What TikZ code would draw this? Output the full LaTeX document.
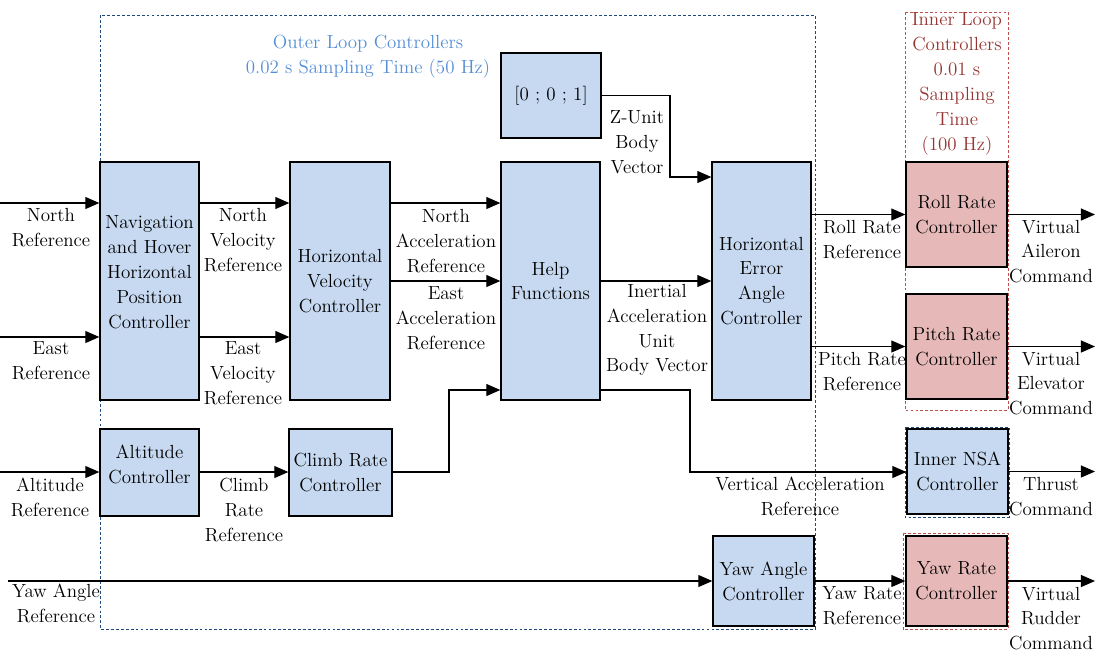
\documentclass[tikz,border=0pt]{standalone}
\usetikzlibrary{arrows.meta}
\definecolor{boxblue}{RGB}{198,217,241}
\definecolor{boxred}{RGB}{230,185,184}
\definecolor{frameblue}{RGB}{31,73,125}
\definecolor{framered}{RGB}{192,80,77}
\definecolor{titleblue}{RGB}{85,142,213}
\definecolor{titlered}{RGB}{150,54,52}
\begin{document}
\begin{tikzpicture}[>={Triangle[length=10pt,width=8.5pt]},x=0.025cm,y=-0.025cm,
    every node/.style={font=\fontsize{13.5}{17.7}\selectfont},
    blk/.style={draw,line width=0.9pt,fill=boxblue,align=center,inner sep=0pt,minimum width=2.5cm},
    rblk/.style={blk,fill=boxred},
    lbl/.style={align=center,inner sep=0pt},
    sig/.style={->,line width=0.9pt},
    frame/.style={line width=0.6pt,dash pattern=on 2pt off 1.5pt}]
    \useasboundingbox (0,0) rectangle (1108,659);
    % frames
    \draw[frame,frameblue] (100,15) rectangle (815,629);
    \draw[frame,framered] (905,12) rectangle (1008,410);
    \draw[frame,frameblue] (905,427) rectangle (1009,517);
    \draw[frame,framered] (903,533) rectangle (1008,629);
    \node[lbl,text=titleblue] (outerTitle) at (368,57) {Outer Loop Controllers\\0.02 s Sampling Time (50 Hz)};
    \node[lbl,text=titlered] (innerTitle) at (957,84) {Inner Loop\\Controllers\\0.01 s\\Sampling\\Time\\(100 Hz)};
    % blocks
    \node[blk,minimum width=2.475cm,minimum height=5.95cm,text depth=12.8pt] (nav) at (149.5,281)
        {Navigation\\and Hover\\Horizontal\\Position\\Controller};
    \node[blk,minimum height=5.95cm] (hvc) at (340,281) {Horizontal\\Velocity\\Controller};
    \node[blk,minimum height=2.125cm] (unitz) at (551,95.5) {[0 ; 0 ; 1]};
    \node[blk,minimum width=2.475cm,minimum height=5.95cm] (help) at (550.5,281) {Help\\Functions};
    \node[blk,minimum width=2.475cm,minimum height=5.95cm] (heac) at (761.5,281)
        {Horizontal\\Error\\Angle\\Controller};
    \node[blk,minimum width=2.475cm,minimum height=2.175cm,text depth=11.3pt] (alt) at (149.5,472.5)
        {Altitude\\Controller};
    \node[blk,minimum width=2.575cm,minimum height=2.175cm] (climb) at (340.5,472.5) {Climb Rate\\Controller};
    \node[blk,minimum width=2.525cm,minimum height=2.25cm] (yawa) at (763.5,581) {Yaw Angle\\Controller};
    \node[rblk,minimum width=2.525cm,minimum height=2.625cm] (roll) at (956.5,214.5) {Roll Rate\\Controller};
    \node[rblk,minimum width=2.525cm,minimum height=2.625cm] (pitch) at (956.5,346.5) {Pitch Rate\\Controller};
    \node[blk,minimum width=2.525cm,minimum height=2.125cm] (nsa) at (957.5,471.5) {Inner NSA\\Controller};
    \node[rblk,minimum width=2.525cm,minimum height=2.25cm] (yawr) at (956.5,581) {Yaw Rate\\Controller};
    % signal ends and bends
    \coordinate (inN) at (0,203);
    \coordinate (inE) at (0,337);
    \coordinate (inAlt) at (0,472);
    \coordinate (inYaw) at (8,581);
    \coordinate (zBend) at (670,177);
    \coordinate (vTop) at (690,390);
    \coordinate (vBot) at (690,472);
    \coordinate (cBot) at (449,472);
    \coordinate (cTop) at (449,390);
    \coordinate (outR) at (1095,214.5);
    \coordinate (outP) at (1095,346.5);
    \coordinate (outT) at (1095,471.5);
    \coordinate (outY) at (1095,581);
    % signals
    \draw[sig] (inN) -- (inN-|nav.west);
    \draw[sig] (inE) -- (inE-|nav.west);
    \draw[sig] (nav.east|-inN) -- (hvc.west|-inN);
    \draw[sig] (nav.east|-inE) -- (hvc.west|-inE);
    \draw[sig] (hvc.east|-inN) -- (help.west|-inN);
    \draw[sig] (hvc.east) -- (help.west);
    \draw[sig] (unitz.east) -| (zBend) -- (zBend-|heac.west);
    \draw[sig] (help.east) -- (heac.west);
    \draw[sig] (help.east|-vTop) -- (vTop) -- (vBot) -- (nsa.west|-vBot);
    \draw[sig] (inAlt) -- (alt.west|-inAlt);
    \draw[sig] (alt.east|-inAlt) -- (climb.west|-inAlt);
    \draw[sig] (climb.east|-cBot) -- (cBot) -- (cTop) -- (help.west|-cTop);
    \draw[sig] (inYaw) -- (yawa.west|-inYaw);
    \draw[sig] (heac.east|-roll) -- (roll.west);
    \draw[sig] (heac.east|-pitch) -- (pitch.west);
    \draw[sig] (yawa.east) -- (yawr.west);
    \draw[sig] (roll.east) -- (outR);
    \draw[sig] (pitch.east) -- (outP);
    \draw[sig] (nsa.east) -- (outT);
    \draw[sig] (yawr.east) -- (outY);
    % signal labels
    \node[lbl] (lNorthRef) at (51,227.5) {North\\Reference};
    \node[lbl] (lEastRef) at (51,361) {East\\Reference};
    \node[lbl] (lNorthVel) at (243,240) {North\\Velocity\\Reference};
    \node[lbl] (lEastVel) at (243,373) {East\\Velocity\\Reference};
    \node[lbl] (lNorthAcc) at (446,241) {North\\Acceleration\\Reference};
    \node[lbl] (lEastAcc) at (446,318) {East\\Acceleration\\Reference};
    \node[lbl] (lZUnit) at (637,142.5) {Z-Unit\\Body\\Vector};
    \node[lbl] (lInertial) at (657,330) {Inertial\\Acceleration\\Unit\\Body Vector};
    \node[lbl] (lVertAcc) at (800,496) {Vertical Acceleration\\Reference};
    \node[lbl] (lAltRef) at (50,497) {Altitude\\Reference};
    \node[lbl] (lClimbRef) at (244,510) {Climb\\Rate\\Reference};
    \node[lbl] (lYawAngRef) at (56,603.5) {Yaw Angle\\Reference};
    \node[lbl] (lRollRef) at (862,240) {Roll Rate\\Reference};
    \node[lbl] (lPitchRef) at (862,371.5) {Pitch Rate\\Reference};
    \node[lbl] (lYawRateRef) at (862,606) {Yaw Rate\\Reference};
    \node[lbl] (lAileron) at (1051,251.5) {Virtual\\Aileron\\Command};
    \node[lbl] (lElevator) at (1051,383.5) {Virtual\\Elevator\\Command};
    \node[lbl] (lThrust) at (1051,497) {Thrust\\Command};
    \node[lbl] (lRudder) at (1051,618.5) {Virtual\\Rudder\\Command};
\end{tikzpicture}
\end{document}
